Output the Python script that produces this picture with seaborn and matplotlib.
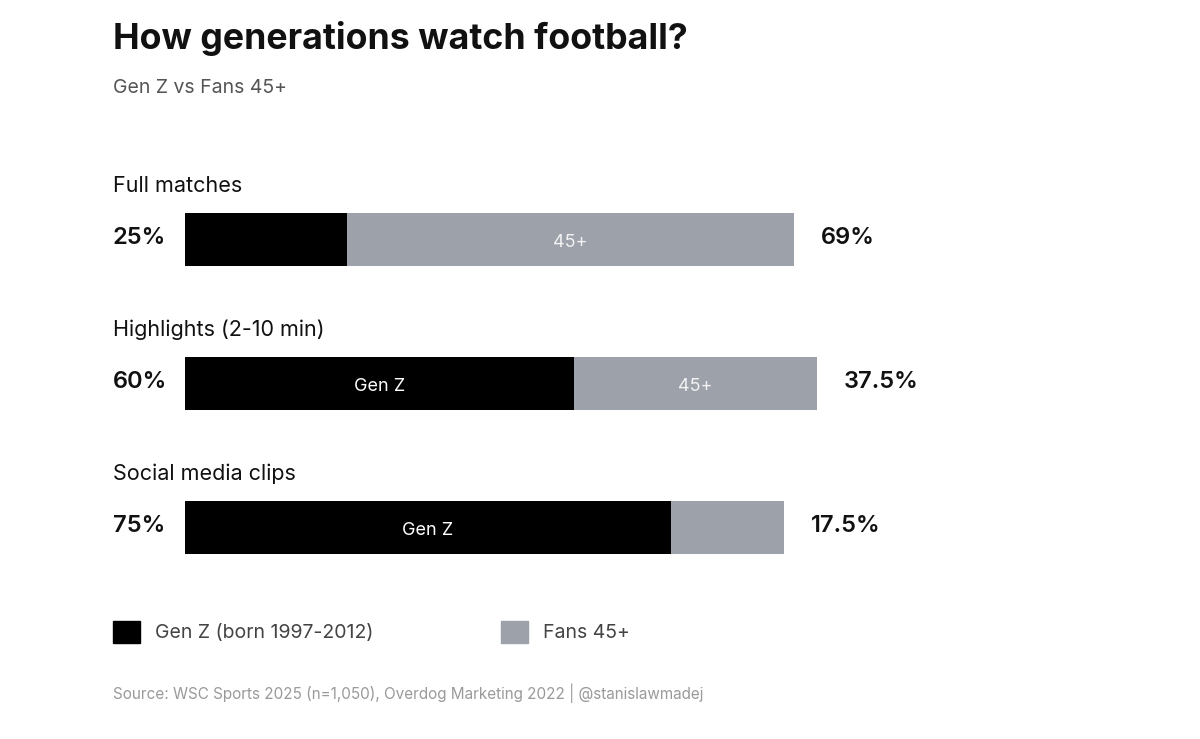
import matplotlib
matplotlib.use('Agg')
import pandas as pd
import matplotlib.pyplot as plt
import matplotlib.patches as mpatches
from matplotlib.transforms import blended_transform_factory
import seaborn as sns

# data
categories = ['Full matches', 'Highlights (2-10 min)', 'Social media clips']
gen_z = [25, 60, 75]
fans_45 = [69, 37.5, 17.5]
gen_z_labels = ['25%', '60%', '75%']
fans_labels = ['69%', '37.5%', '17.5%']
legend_labels = ['Gen Z (born 1997-2012)', 'Fans 45+']

BLACK = '#000000'
GRAY = '#9DA1AA'
TEXT = '#111111'

df = pd.DataFrame({'category': categories, 'gen_z': gen_z, 'fans': fans_45})
df['total'] = df['gen_z'] + df['fans']

sns.set_theme(style='white')
plt.rcParams['font.family'] = ['Inter', 'DejaVu Sans']

W, H = 1200, 739
fig = plt.figure(figsize=(W / 100, H / 100), dpi=100)
fig.patch.set_facecolor('white')
ax = fig.add_axes([185 / W, 1 - 599.5 / H, 648 / W, 432 / H])

bar_w = 53 / 144
sns.barplot(data=df, y='category', x='total', color=GRAY, orient='h', width=bar_w,
            saturation=1, errorbar=None, linewidth=0, ax=ax)
sns.barplot(data=df, y='category', x='gen_z', color=BLACK, orient='h', width=bar_w,
            saturation=1, errorbar=None, linewidth=0, ax=ax)
ax.set_xlim(0, 100)
ax.set_ylim(2.5, -0.5)
ax.axis('off')

lab_tr = blended_transform_factory(fig.transFigure, ax.transData)
for i, cat in enumerate(categories):
    ax.text(113 / W, i - 0.37, cat, transform=lab_tr, ha='left', va='center',
            fontsize=15.5, color=TEXT)
    ax.text(113 / W, i - 0.01, gen_z_labels[i], transform=lab_tr, ha='left', va='center',
            fontsize=17, fontweight='semibold', color=TEXT)
    total = gen_z[i] + fans_45[i]
    ax.annotate(fans_labels[i], xy=(total, i - 0.01), xytext=(27, 0), textcoords='offset pixels',
                ha='left', va='center', fontsize=17, fontweight='semibold', color=TEXT)
    # inner labels only where the segment is wide enough
    if gen_z[i] >= 30:
        ax.text(gen_z[i] / 2, i + 0.02, 'Gen Z', ha='center', va='center',
                fontsize=13, color='white')
    if fans_45[i] >= 30:
        ax.text(gen_z[i] + fans_45[i] / 2, i + 0.02, '45+', ha='center', va='center',
                fontsize=13, color='#f2f2f2')

fig.text(113 / W, 1 - 38 / H, 'How generations watch football?', ha='left', va='center',
         fontsize=25.7, fontweight='bold', color=TEXT)
fig.text(113 / W, 1 - 88 / H, 'Gen Z vs Fans 45+', ha='left', va='center',
         fontsize=14, color='#555555')

for x0, lab, col in zip([113, 501], legend_labels, [BLACK, GRAY]):
    fig.legend(handles=[mpatches.Patch(color=col, label=lab)], loc='center left',
               bbox_to_anchor=(x0 / W, 1 - 632 / H), frameon=False, fontsize=14,
               handlelength=1.39, handleheight=1.39, handletextpad=0.75,
               borderpad=0, borderaxespad=0, labelcolor='#444444')

fig.text(113 / W, 1 - 693 / H,
         'Source: WSC Sports 2025 (n=1,050), Overdog Marketing 2022 | @stanislawmadej',
         ha='left', va='center', fontsize=11, color='#9a9a9a')

fig.savefig('out.png', dpi=100, facecolor='white')
